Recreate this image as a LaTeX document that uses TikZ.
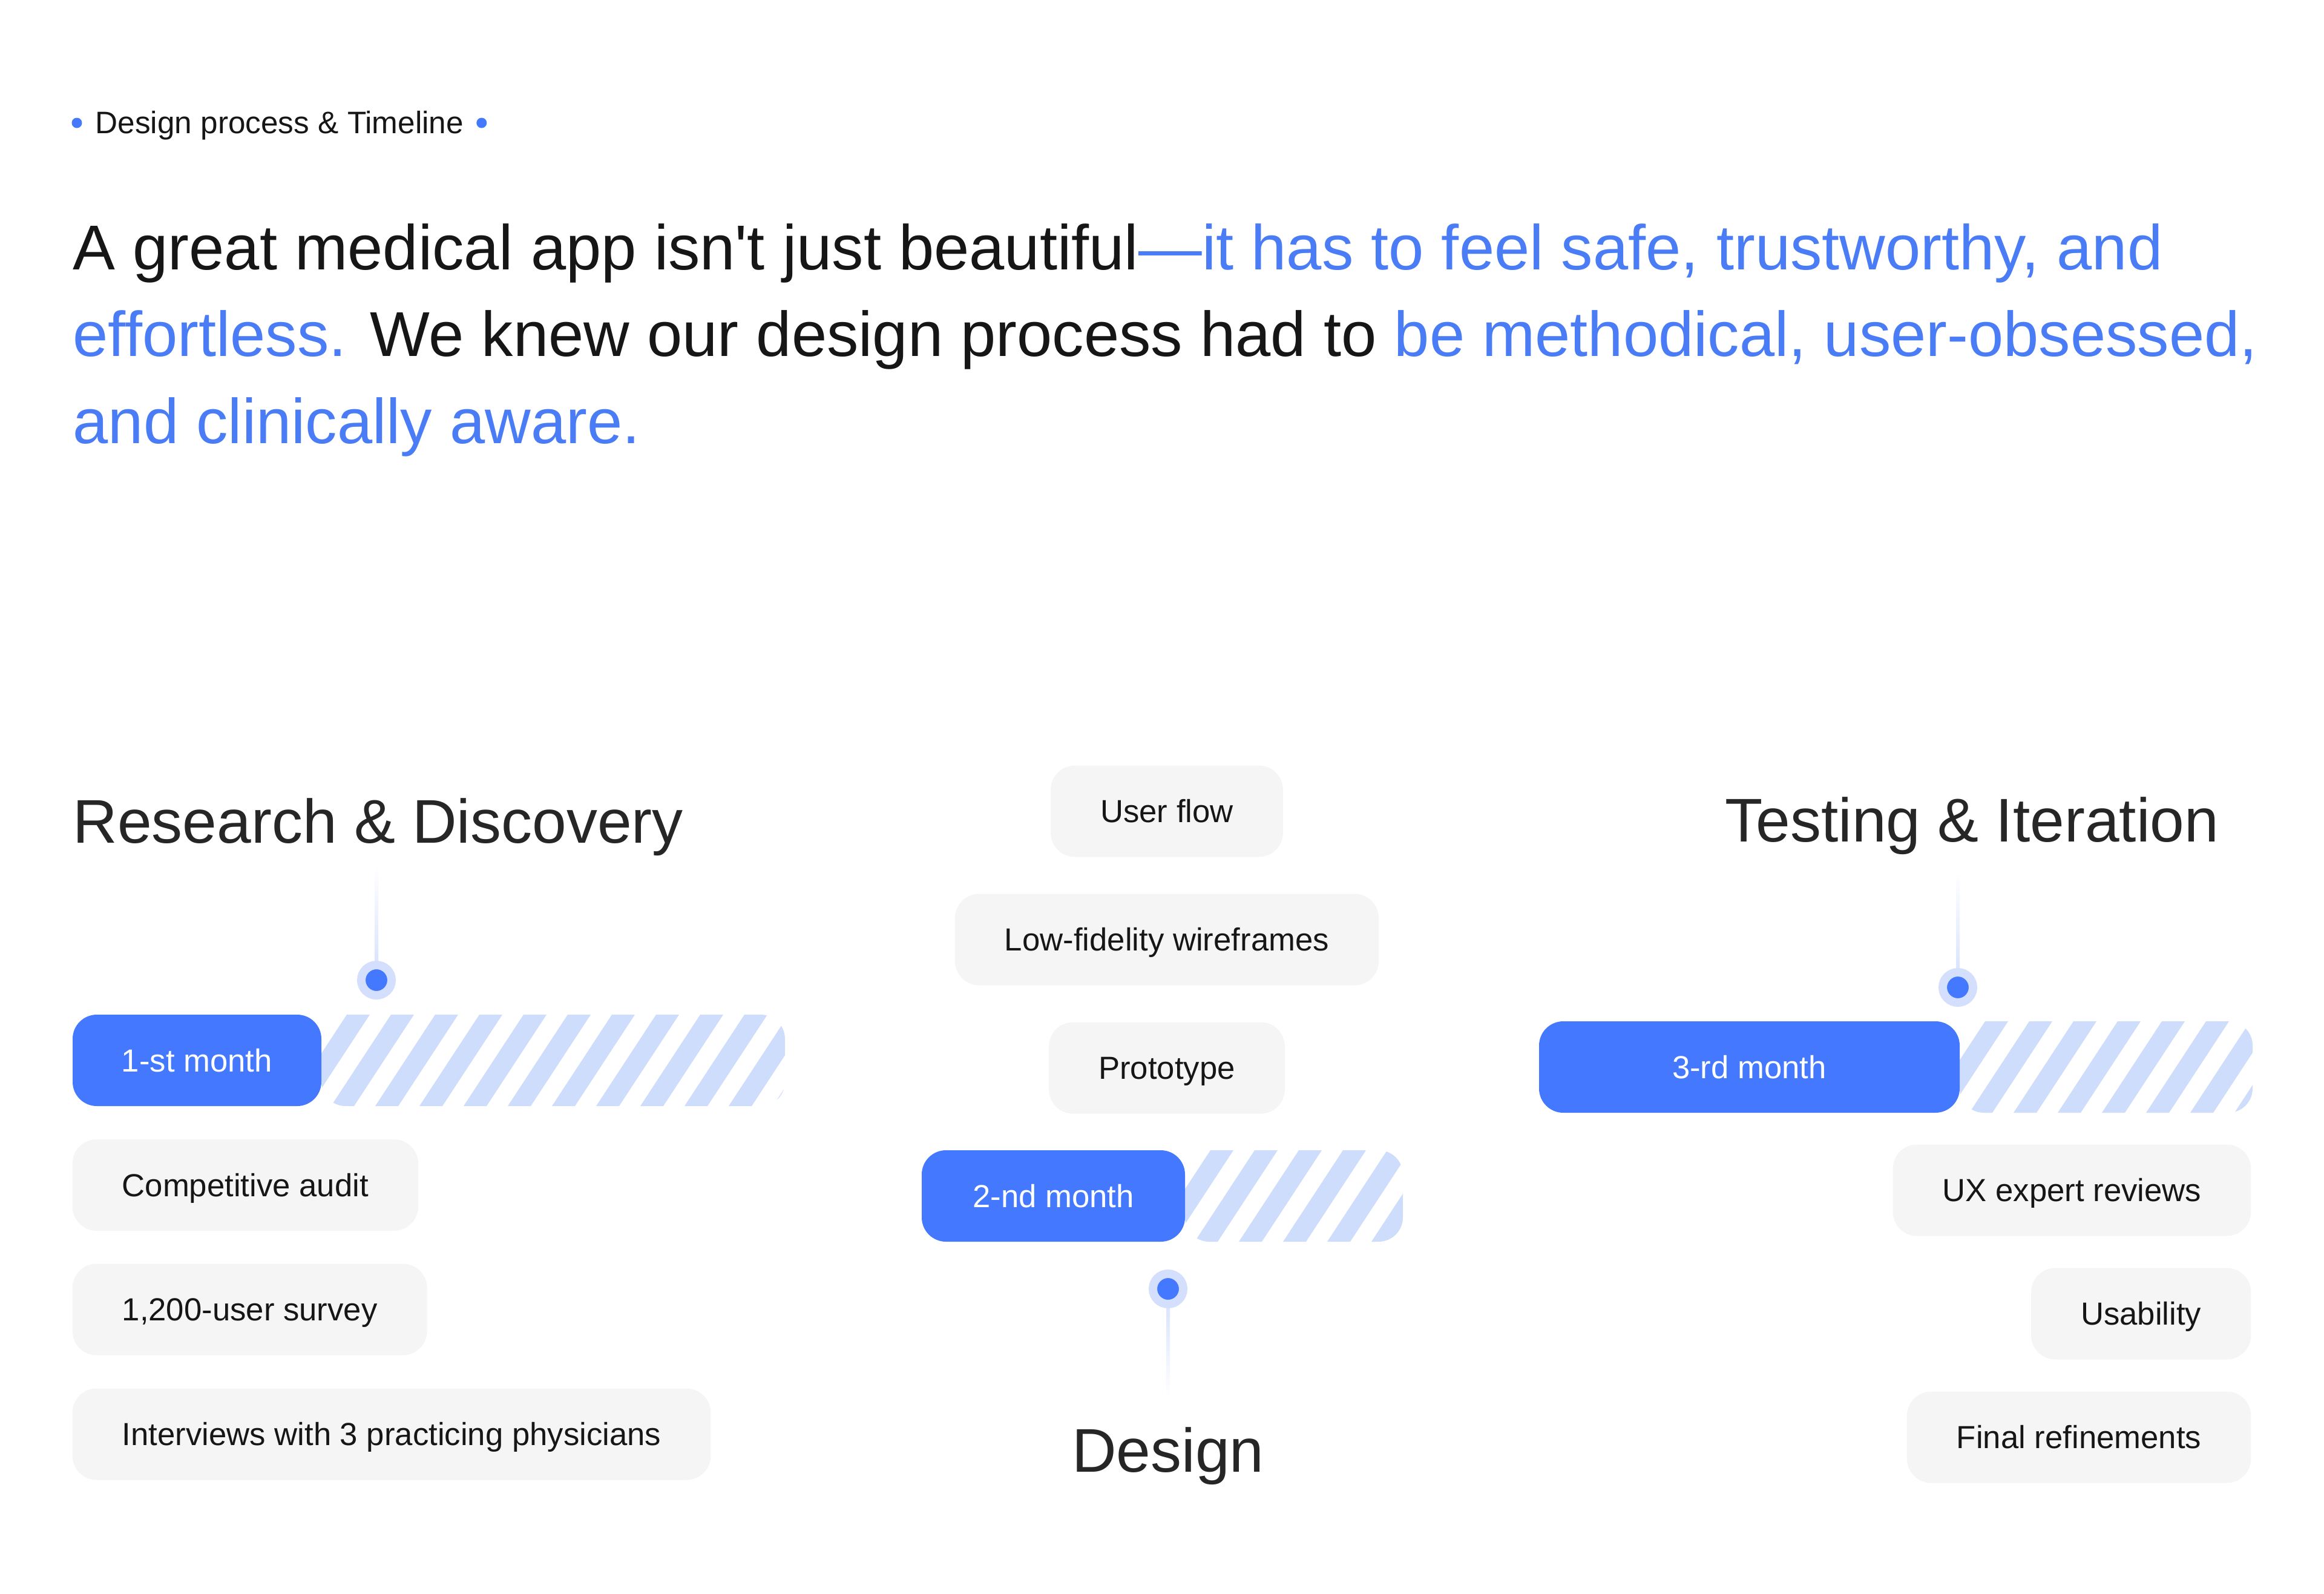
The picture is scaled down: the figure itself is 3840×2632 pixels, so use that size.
\documentclass[tikz,border=0pt]{standalone}
\usepackage{fontspec}
\setmainfont[Ligatures=TeXOff]{Liberation Sans}
\usetikzlibrary{calc}

\definecolor{accent}{HTML}{4479FF}
\definecolor{headblue}{HTML}{4A7CF6}
\definecolor{hatchblue}{HTML}{CFDDFC}
\definecolor{ringblue}{HTML}{D3DFFC}
\definecolor{chipgray}{HTML}{F5F5F5}
\definecolor{inkdark}{HTML}{161616}
\definecolor{titlegray}{HTML}{262626}

\tikzset{
	chip/.style={fill=chipgray, rounded corners=4mm, minimum height=15.1mm, inner xsep=8.2mm, inner ysep=0pt,
		text height=10.7pt, text depth=0pt, text=inkdark, font=\fontsize{15}{18}\selectfont},
	monthbox/.style={fill=accent, rounded corners=4mm, minimum height=15.1mm, inner sep=0pt,
		text height=10.7pt, text depth=0pt, text=white, font=\fontsize{15}{18}\selectfont},
	stagetitle/.style={text=titlegray, inner sep=0pt, font=\fontsize{29}{35}\selectfont},
	headline/.style={anchor=base west, inner sep=0pt, text=inkdark, font=\fontsize{29.8}{41}\selectfont},
	stagedot/.style={circle, fill=accent, draw=ringblue, line width=1.4mm, minimum size=5mm, inner sep=0pt},
	tagdot/.style={circle, fill=accent, minimum size=1.7mm, inner sep=0pt},
	hatchfill/.style={fill=hatchblue}
}

\begin{document}
\begin{tikzpicture}[x=0.1mm, y=-0.1mm]
	\fill[white] (0,0) rectangle (3840,2632);

	% tag and heading
	\node[anchor=base west, inner sep=0pt, text=inkdark, font=\fontsize{14.6}{17}\selectfont] (tag) at (157,220) {Design process \& Timeline};
	\node[tagdot] (tagL) at ($(tag.base west)+(-30,-17)$) {};
	\node[tagdot] (tagR) at ($(tag.base east)+(29,-17)$) {};

	\node[headline] (lineA) at (120,445) {A great medical app isn't just beautiful\textcolor{headblue}{—it has to feel safe, trustworthy, and}};
	\node[headline] (lineB) at (120,588) {\textcolor{headblue}{effortless.} We knew our design process had to \textcolor{headblue}{be methodical, user-obsessed,}};
	\node[headline] (lineC) at (120,732) {\textcolor{headblue}{and clinically aware.}};

	% stage titles
	\node[stagetitle, anchor=base west] (ttlA) at (120,1392) {Research \& Discovery};
	\node[stagetitle, anchor=base] (ttlB) at (1930,2431) {Design};
	\node[stagetitle, anchor=base east] (ttlC) at (3667,1390) {Testing \& Iteration};

	\coordinate (pA) at (622,1619);
	\coordinate (pB) at (1930,2129);
	\coordinate (pC) at (3235,1631);

	\shade[top color=white, bottom color=ringblue] ($(pA |- ttlA.south)+(-3,17)$) rectangle ($(pA)+(3,0)$);
	\shade[top color=ringblue, bottom color=white] ($(pB)+(-3,0)$) rectangle ($(pB |- ttlB.north)+(3,-48)$);
	\shade[top color=white, bottom color=ringblue] ($(pC |- ttlC.south)+(-3,30)$) rectangle ($(pC)+(3,0)$);

	\node[stagedot] (dotA) at (pA) {};
	\node[stagedot] (dotB) at (pB) {};
	\node[stagedot] (dotC) at (pC) {};

	% month bars
	\foreach \i/\xl/\xb/\xh/\yt/\lab in {A/120/531/1297/1676/1-st month, B/1523/1958/2318/1900/2-nd month, C/2543/3238/3722/1687/3-rd month}{
		\begin{scope}
			\clip[rounded corners=4mm] (\xb,\yt) rectangle (\xh,\yt+151);
			\foreach \k in {-2,...,11}
				\fill[hatchfill] (\xb+16+\k*73,\yt+151) -- ++(38,0) -- ++(99,-151) -- ++(-38,0) -- cycle;
		\end{scope}
		\node[monthbox, minimum width={(\xb-\xl)*0.1mm}] (month\i) at ({(\xl+\xb)/2},\yt+75.5) {\lab};
	}

	% tasks
	\node[chip, anchor=west] (audit) at (119,1957.5) {Competitive audit};
	\node[chip, anchor=west] (survey) at (119,2163) {1,200-user survey};
	\node[chip, anchor=west] (interviews) at (119,2369) {Interviews with 3 practicing physicians};

	\node[chip] (userflow) at (1928,1340) {User flow};
	\node[chip] (wireframes) at (1928,1552) {Low-fidelity wireframes};
	\node[chip] (prototype) at (1928,1764) {Prototype};

	\node[chip, anchor=east] (uxreview) at (3720,1966) {UX expert reviews};
	\node[chip, anchor=east] (usability) at (3720,2170) {Usability};
	\node[chip, anchor=east] (refine) at (3720,2374) {Final refinements};
\end{tikzpicture}
\end{document}
